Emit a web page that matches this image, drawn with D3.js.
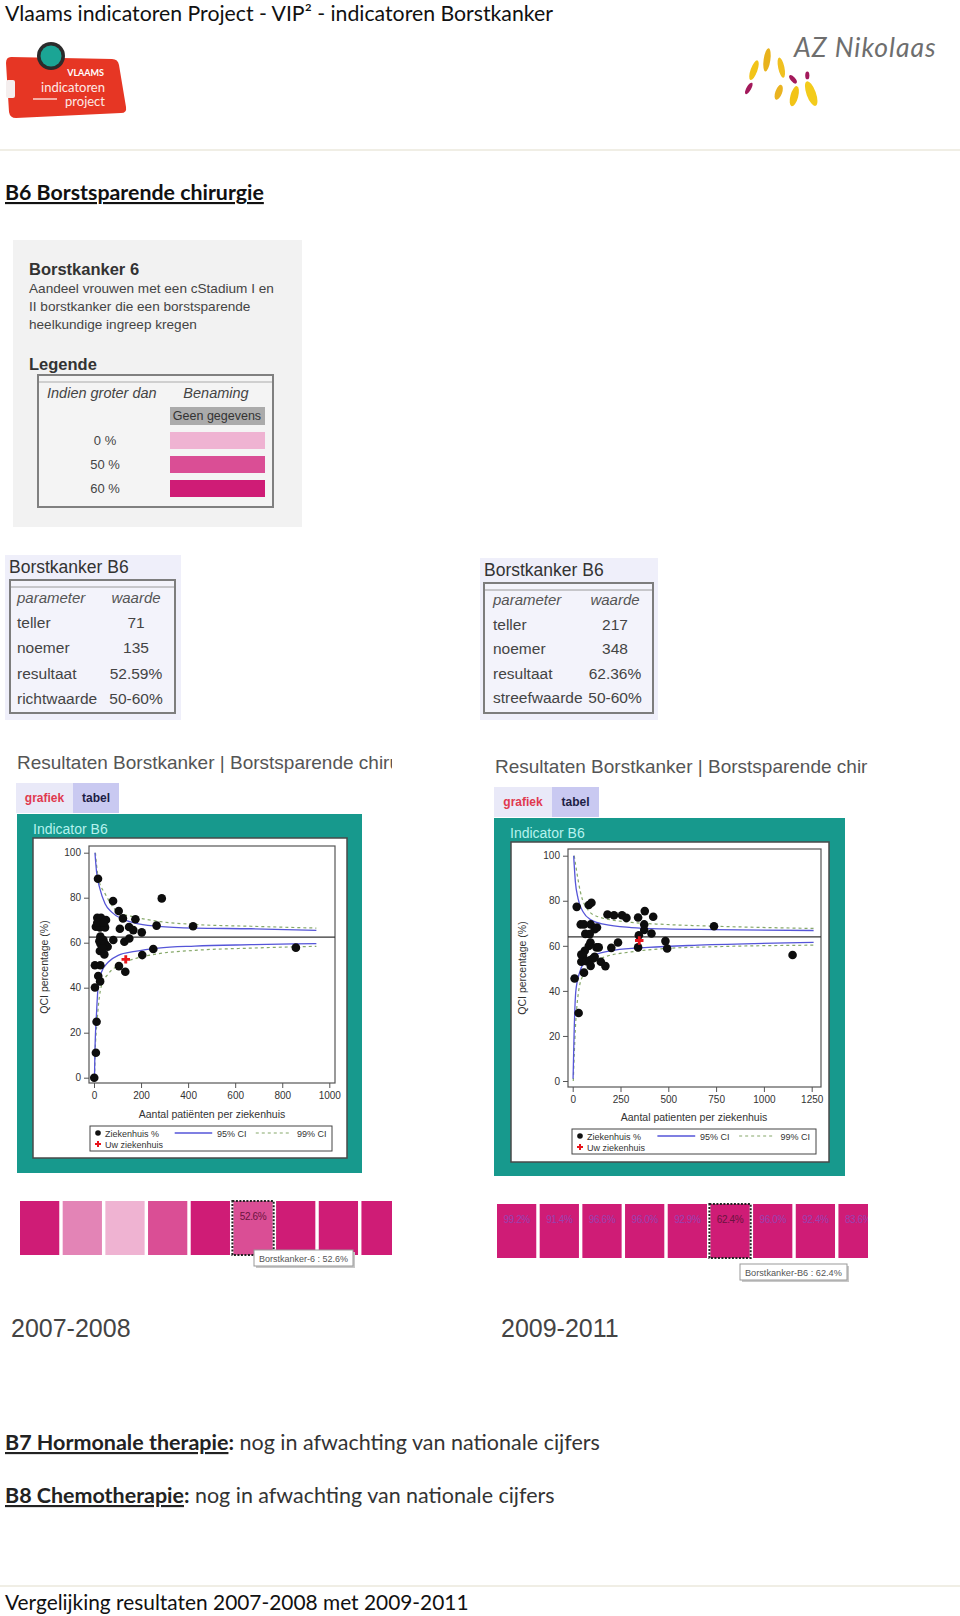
<!DOCTYPE html>
<html><head><meta charset="utf-8">
<script src="https://cdn.jsdelivr.net/npm/d3@7"></script>
<style>body{margin:0;background:#fff}svg{display:block}</style>
</head><body>
<svg id="c" width="960" height="1616"></svg>
<script>
// ---------------- DATA ----------------
const headerTitle = "Vlaams indicatoren Project - VIP² - indicatoren Borstkanker";
const sectionTitle = "B6 Borstsparende chirurgie";
const indicatorName = "Borstkanker 6";
const indicatorDesc = ["Aandeel vrouwen met een cStadium I en", "II borstkanker die een borstsparende", "heelkundige ingreep kregen"];
const legendThresholds = ["0 %", "50 %", "60 %"];
const legendClasses = ["c0", "c50", "c60"];
const tableLeftParams = ["teller", "noemer", "resultaat", "richtwaarde"];
const tableLeftValues = ["71", "135", "52.59%", "50-60%"];
const tableRightParams = ["teller", "noemer", "resultaat", "streefwaarde"];
const tableRightValues = ["217", "348", "62.36%", "50-60%"];
const yTicks = [0, 20, 40, 60, 80, 100];
const xTicksLeft = [0, 200, 400, 600, 800, 1000];
const xTicksRight = [0, 250, 500, 750, 1000, 1250];
const meanLeft = 62.5;
const meanRight = 64.0;
// hospitals: [patients, percentage]
const pointsLeft = [
  [17,88.4],[288,79.7],[81,78.5],[105,74.1],[123,70.8],[176,70.4],[266,67.6],[421,67.3],
  [110,66.2],[149,67],[167,65.6],[203,64.6],
  [14,71.1],[30,71.1],[51,70.1],[8,67.1],[25,66.8],[47,66.8],[14,68.9],[40,68.9],
  [27,62.7],[23,60.7],[40,61.2],[28,59.4],[47,59.4],[58,58.2],[25,56.3],[44,54.8],[37,57.5],
  [82,61.2],[129,60.4],[150,61.9],
  [205,54.5],[252,57.2],[106,49.6],[133,47.1],[4,50],[27,50],[18,45.2],[26,42.8],[4,40.1],
  [11,24.9],[8,11.1],[1,0],[858,57.8]
];
const ownLeft = [135, 52.59];
const pointsRight = [
  [21,77.3],[84,78.1],[98,79.1],[182,73.9],[216,73.6],[258,73.6],[281,72.4],[342,72.6],[377,75.4],[421,72.9],
  [42,69.5],[59,69.5],[94,69.5],[115,67.4],[127,68.1],[66,65.3],[89,65.2],
  [374,69.5],[374,67],[346,64.7],[412,65.5],[739,68.7],
  [485,62.1],[494,58.8],[342,59.3],[237,61.5],[202,59.1],
  [93,61.5],[84,59.9],[124,59.3],[136,59.3],[63,57.8],[45,56.1],[54,55.9],
  [45,52.9],[72,53.2],[89,53.6],[106,54.4],[115,55.1],[94,51.1],[147,52.9],[171,51],[59,48.1],
  [10,45.5],[31,30.2],[1150,55.9]
];
const ownRight = [348, 62.36];
// control limits: [patients, percentage]
const upper95Left = [[4,100],[11,91.4],[25,84],[47,77.3],[75,73.6],[117,70.7],[174,68.7],[273,67.3],[428,66.5],[668,66.2],[945,65.5]];
const upper99Left = [[6,100],[11,94.4],[20,88],[47,81.8],[103,73.6],[174,71.4],[273,69.5],[428,68.1],[668,67.3],[945,66.5]];
const lower95Left = [[2,0],[4,11.4],[11,29.2],[18,41],[32,47],[61,51.4],[103,54.4],[174,56.1],[273,57.6],[428,58.5],[668,59.1],[945,59.6]];
const lower99Left = [[3,0],[4,8.4],[14,26.2],[32,41],[61,46.2],[103,49.9],[174,52.9],[273,55.1],[428,56.6],[668,57.6],[945,58.4]];
const upper95Right = [[5,100],[14,88.4],[28,81],[54,75.1],[98,71.4],[168,69.5],[307,68.1],[482,67.5],[744,67.2],[1260,66.8]];
const upper99Right = [[8,100],[19,94],[40,84],[80,75.9],[133,72.9],[307,70.4],[482,69.5],[744,68.7],[1260,67.7]];
const lower95Right = [[2,1],[7,20],[16,39.6],[37,48.4],[63,52.9],[115,55.9],[220,58.1],[395,59.3],[656,60.3],[1260,61.5]];
const lower99Right = [[3,0],[14,23.3],[28,38],[54,47],[98,51.4],[168,55.1],[307,57.3],[482,58.8],[744,59.6],[1260,60.3]];
// colour strips
const stripLeftClasses = ["c60","c50f","c0","c50","c60","c50","c60","c60","c60"];
const stripLeftLabels = ["","","","","","52.6%","","",""];
const stripRightClasses = ["c60","c60","c60","c60","c60","c60","c60","c60","c60"];
const stripRightLabels = ["99.2%","91.4%","96.6%","96.0%","92.9%","62.4%","96.0%","92.4%","83.6%"];
const tooltipLeft = "Borstkanker-6 : 52.6%";
const tooltipRight = "Borstkanker-B6 : 62.4%";
const periods = ["2007-2008", "2009-2011"];

// ---------------- DRAW ----------------
const svg = d3.select("#c");
const SANS = "'Liberation Sans', Arial, sans-serif";
const CAL = "Lato, 'Open Sans', sans-serif";
const classColor = d3.scaleOrdinal().domain(["c0","c50","c60","c50f"]).range(["#efb3d2","#da4e95","#cf1c76","#e384b6"]);

function fitW(sel, w) {
  const cur = sel.node().getComputedTextLength();
  const fs = parseFloat(sel.attr("font-size"));
  if (cur > 0) sel.attr("font-size", fs * w / cur);
  return sel;
}

svg.append("rect").attr("width", 960).attr("height", 1616).attr("fill", "#fff");

// header
fitW(svg.append("text").attr("x", 5).attr("y", 21).attr("font-family", CAL).attr("font-size", 20)
  .attr("fill", "#111").text(headerTitle), 548);

// VIP logo
const logo = svg.append("g");
logo.append("path").attr("d", "M11,57 L112,59 Q118,59 119,65 L126,107 Q127,113 121,113 L16,118 Q10,118 9,112 L6,63 Q6,57 11,57 Z")
  .attr("fill", "#e63624");
logo.append("rect").attr("x", 6).attr("y", 80).attr("width", 9).attr("height", 18).attr("fill", "#f4eeee").attr("rx", 2);
logo.append("circle").attr("cx", 51).attr("cy", 56).attr("r", 14).attr("fill", "#2b2b2b");
logo.append("circle").attr("cx", 51).attr("cy", 56).attr("r", 10.5).attr("fill", "#1ba595");
logo.append("text").attr("x", 104).attr("y", 76).attr("text-anchor", "end").attr("font-family", CAL)
  .attr("font-weight", "bold").attr("font-size", 9).attr("fill", "#fff").text("VLAAMS");
logo.append("text").attr("x", 105).attr("y", 92).attr("text-anchor", "end").attr("font-family", CAL)
  .attr("font-size", 13).attr("fill", "#fde9e6").text("indicatoren");
logo.append("line").attr("x1", 33).attr("x2", 57).attr("y1", 99).attr("y2", 99).attr("stroke", "#fbd5cf").attr("stroke-width", 1.5);
logo.append("text").attr("x", 105).attr("y", 106).attr("text-anchor", "end").attr("font-family", CAL)
  .attr("font-size", 13).attr("fill", "#fde9e6").text("project");

// AZ Nikolaas logo
const az = svg.append("g");
fitW(az.append("text").attr("x", 794).attr("y", 57).attr("font-family", CAL).attr("font-style", "italic")
  .attr("font-size", 22).attr("fill", "#6e6e6e").attr("letter-spacing", 1).text("AZ Nikolaas"), 145);
const petals = [
  [752,72,2.6,8,20,"#f2c418"],[762,64,2.6,9,8,"#e8b21c"],[773,70,2.4,8,-12,"#f0c020"],
  [748,86,1.8,5,30,"#a3195b"],[782,79,1.8,4,-40,"#a3195b"],[771,89,2.6,6,20,"#eab320"],
  [783,92,3,8,15,"#f2c418"],[796,90,3.6,10,-20,"#f3cb1b"],[793,76,1.6,3,0,"#a3195b"]
];
az.append("g").attr("transform", "translate(780,78) scale(1.3) translate(-772,-78)")
  .selectAll("ellipse").data(petals).join("ellipse")
  .attr("cx", d => d[0]).attr("cy", d => d[1]).attr("rx", d => d[2]).attr("ry", d => d[3])
  .attr("transform", d => `rotate(${d[4]},${d[0]},${d[1]})`).attr("fill", d => d[5]);

svg.append("line").attr("x1", 0).attr("x2", 960).attr("y1", 150).attr("y2", 150).attr("stroke", "#ebe8dc").attr("stroke-width", 1.5);

// section title
fitW(svg.append("text").attr("x", 5).attr("y", 200).attr("font-family", CAL).attr("font-weight", "bold")
  .attr("font-size", 20).attr("fill", "#111").attr("text-decoration", "underline").text(sectionTitle), 259);

// grey legend box
const lg = svg.append("g");
lg.append("rect").attr("x", 13).attr("y", 240).attr("width", 289).attr("height", 287).attr("fill", "#f2f2f2");
lg.append("text").attr("x", 29).attr("y", 275).attr("font-family", SANS).attr("font-weight", "bold")
  .attr("font-size", 16.5).attr("fill", "#333").text(indicatorName);
lg.selectAll("text.desc").data(indicatorDesc).join("text").attr("class", "desc")
  .attr("x", 29).attr("y", (d, i) => 293 + i * 18).attr("font-family", SANS).attr("font-size", 13.6)
  .attr("fill", "#444").text(d => d);
lg.append("text").attr("x", 29).attr("y", 370).attr("font-family", SANS).attr("font-weight", "bold")
  .attr("font-size", 16.5).attr("fill", "#333").text("Legende");
lg.append("rect").attr("x", 38).attr("y", 375).attr("width", 235).attr("height", 132).attr("fill", "#f4f4f4")
  .attr("stroke", "#808080").attr("stroke-width", 2);
lg.append("line").attr("x1", 39).attr("x2", 272).attr("y1", 382).attr("y2", 382).attr("stroke", "#aaa");
lg.append("text").attr("x", 47).attr("y", 398).attr("font-family", SANS).attr("font-style", "italic")
  .attr("font-size", 14.5).attr("fill", "#444").text("Indien groter dan");
lg.append("text").attr("x", 216).attr("y", 398).attr("text-anchor", "middle").attr("font-family", SANS)
  .attr("font-style", "italic").attr("font-size", 14.5).attr("fill", "#444").text("Benaming");
lg.append("rect").attr("x", 170).attr("y", 407).attr("width", 95).attr("height", 18).attr("fill", "#ababab");
lg.append("text").attr("x", 217).attr("y", 420).attr("text-anchor", "middle").attr("font-family", SANS)
  .attr("font-size", 12.5).attr("fill", "#333").text("Geen gegevens");
lg.selectAll("rect.cls").data(legendClasses).join("rect").attr("class", "cls")
  .attr("x", 170).attr("y", (d, i) => 432 + i * 24).attr("width", 95).attr("height", 17).attr("fill", d => classColor(d));
lg.selectAll("text.thr").data(legendThresholds).join("text").attr("class", "thr")
  .attr("x", 105).attr("y", (d, i) => 445 + i * 24).attr("text-anchor", "middle").attr("font-family", SANS)
  .attr("font-size", 13).attr("fill", "#444").text(d => d);

// parameter tables
function paramTable(cfg, params, values) {
  const g = svg.append("g");
  g.append("rect").attr("x", cfg.x).attr("y", cfg.y).attr("width", cfg.w).attr("height", cfg.h).attr("fill", "#efeffa");
  g.append("text").attr("x", cfg.x + 4).attr("y", cfg.y + 18).attr("font-family", SANS).attr("font-size", 17.5)
    .attr("fill", "#333").text("Borstkanker B6");
  g.append("rect").attr("x", cfg.ix).attr("y", cfg.iy).attr("width", cfg.iw).attr("height", cfg.ih)
    .attr("fill", "#f3f3fb").attr("stroke", "#7d7d7d").attr("stroke-width", 2);
  g.append("line").attr("x1", cfg.ix + 1).attr("x2", cfg.ix + cfg.iw - 1).attr("y1", cfg.iy + 7).attr("y2", cfg.iy + 7).attr("stroke", "#9a9a9a");
  g.append("text").attr("x", cfg.px).attr("y", cfg.y0).attr("font-family", SANS).attr("font-style", "italic")
    .attr("font-size", 15).attr("fill", "#555").text("parameter");
  g.append("text").attr("x", cfg.vx).attr("y", cfg.y0).attr("text-anchor", "middle").attr("font-family", SANS)
    .attr("font-style", "italic").attr("font-size", 15).attr("fill", "#555").text("waarde");
  g.selectAll("text.p").data(params).join("text").attr("class", "p").attr("x", cfg.px)
    .attr("y", (d, i) => cfg.y0 + (i + 1) * cfg.dy).attr("font-family", SANS).attr("font-size", 15.5)
    .attr("fill", "#444").text(d => d);
  g.selectAll("text.v").data(values).join("text").attr("class", "v").attr("x", cfg.vx)
    .attr("y", (d, i) => cfg.y0 + (i + 1) * cfg.dy).attr("text-anchor", "middle").attr("font-family", SANS)
    .attr("font-size", 15.5).attr("fill", "#444").text(d => d);
}
paramTable({x: 5, y: 555, w: 176, h: 165, ix: 10, iy: 580, iw: 165, ih: 133, px: 17, vx: 136, y0: 603, dy: 25.2},
  tableLeftParams, tableLeftValues);
paramTable({x: 480, y: 558, w: 178, h: 162, ix: 484, iy: 583, iw: 169, ih: 130, px: 493, vx: 615, y0: 605, dy: 24.6},
  tableRightParams, tableRightValues);

// funnel charts
function funnel(cfg) {
  const g = svg.append("g");
  const cid = "clip" + cfg.id;
  svg.append("clipPath").attr("id", cid + "t").append("rect").attr("x", 0).attr("y", cfg.title.y - 30)
    .attr("width", cfg.title.clip).attr("height", 40);
  g.append("text").attr("clip-path", `url(#${cid}t)`).attr("x", cfg.title.x).attr("y", cfg.title.y)
    .attr("font-family", SANS).attr("font-size", 19).attr("fill", "#555")
    .text("Resultaten Borstkanker | Borstsparende chirurgie");
  // tabs
  const t = cfg.tabs;
  g.append("rect").attr("x", t.x).attr("y", t.y).attr("width", t.w1).attr("height", t.h).attr("fill", "#e9e9f8");
  g.append("rect").attr("x", t.x + t.w1).attr("y", t.y).attr("width", t.w2).attr("height", t.h).attr("fill", "#c9c9f1");
  g.append("text").attr("x", t.x + t.w1 / 2).attr("y", t.y + 19).attr("text-anchor", "middle").attr("font-family", SANS)
    .attr("font-weight", "bold").attr("font-size", 12).attr("fill", "#e0394f").text("grafiek");
  g.append("text").attr("x", t.x + t.w1 + t.w2 / 2).attr("y", t.y + 19).attr("text-anchor", "middle").attr("font-family", SANS)
    .attr("font-weight", "bold").attr("font-size", 12).attr("fill", "#1d1d45").text("tabel");
  // teal panel
  const p = cfg.teal;
  g.append("rect").attr("x", p.x).attr("y", p.y).attr("width", p.w).attr("height", p.h).attr("fill", "#17998d");
  g.append("text").attr("x", cfg.ind.x).attr("y", cfg.ind.y).attr("font-family", SANS).attr("font-size", 14)
    .attr("fill", "#b6f2ee").text("Indicator B6");
  const inr = cfg.inner;
  g.append("rect").attr("x", inr.x).attr("y", inr.y).attr("width", inr.w).attr("height", inr.h)
    .attr("fill", "#fff").attr("stroke", "#4a4a4a").attr("stroke-width", 1.5);
  const f = cfg.frame;
  const x = d3.scaleLinear().domain([0, cfg.xTicks[cfg.xTicks.length - 1]]).range(cfg.xr);
  const y = d3.scaleLinear().domain([0, 100]).range(cfg.yr);
  g.append("rect").attr("x", f.x0).attr("y", f.y0).attr("width", f.x1 - f.x0).attr("height", f.y1 - f.y0)
    .attr("fill", "#fff").attr("stroke", "#555").attr("stroke-width", 1.2);
  const ay = g.append("g").attr("transform", `translate(${f.x0},0)`)
    .call(d3.axisLeft(y).tickValues(yTicks).tickFormat(d3.format("d")).tickSize(5).tickPadding(3));
  ay.select(".domain").remove();
  ay.selectAll("line").attr("stroke", "#555");
  ay.selectAll("text").attr("font-family", SANS).attr("font-size", 10).attr("fill", "#333");
  const ax = g.append("g").attr("transform", `translate(0,${f.y1})`)
    .call(d3.axisBottom(x).tickValues(cfg.xTicks).tickFormat(d3.format("d")).tickSize(5).tickPadding(4));
  ax.select(".domain").remove();
  ax.selectAll("line").attr("stroke", "#555");
  ax.selectAll("text").attr("font-family", SANS).attr("font-size", 10).attr("fill", "#333");
  g.append("text").attr("x", cfg.xTitle.x).attr("y", cfg.xTitle.y).attr("text-anchor", "middle").attr("font-family", SANS)
    .attr("font-size", 10.5).attr("fill", "#333").text(cfg.xTitleText);
  g.append("text").attr("transform", `translate(${cfg.yTitle.x},${cfg.yTitle.y}) rotate(-90)`).attr("text-anchor", "middle")
    .attr("font-family", SANS).attr("font-size", 10.5).attr("fill", "#333").text("QCI percentage (%)");
  // clip for plot
  svg.append("clipPath").attr("id", cid).append("rect").attr("x", f.x0).attr("y", f.y0)
    .attr("width", f.x1 - f.x0).attr("height", f.y1 - f.y0);
  const pg = g.append("g").attr("clip-path", `url(#${cid})`);
  pg.append("line").attr("x1", f.x0).attr("x2", f.x1).attr("y1", y(cfg.mean)).attr("y2", y(cfg.mean))
    .attr("stroke", "#333").attr("stroke-width", 1.2);
  const line = d3.line().x(d => x(d[0])).y(d => y(d[1])).curve(d3.curveMonotoneX);
  [cfg.u99, cfg.l99].forEach(c => pg.append("path").attr("d", line(c)).attr("fill", "none")
    .attr("stroke", "#86a86a").attr("stroke-width", 1.2).attr("stroke-dasharray", "3,3"));
  [cfg.u95, cfg.l95].forEach(c => pg.append("path").attr("d", line(c)).attr("fill", "none")
    .attr("stroke", "#5555d8").attr("stroke-width", 1.3));
  pg.selectAll("circle.pt").data(cfg.points).join("circle").attr("class", "pt")
    .attr("cx", d => x(d[0])).attr("cy", d => y(d[1])).attr("r", 4.3).attr("fill", "#0d0d0d");
  pg.append("path").attr("d", d3.symbol(d3.symbolCross, 40)())
    .attr("transform", `translate(${x(cfg.own[0])},${y(cfg.own[1])})`).attr("fill", "#e8141c");
  // legend
  const L = cfg.legend;
  const lgG = g.append("g").attr("transform", `translate(${L.x},${L.y})`);
  lgG.append("rect").attr("width", L.w).attr("height", L.h).attr("fill", "#fff").attr("stroke", "#444");
  lgG.append("circle").attr("cx", 8).attr("cy", 7).attr("r", 2.8).attr("fill", "#111");
  lgG.append("path").attr("d", d3.symbol(d3.symbolCross, 20)()).attr("transform", "translate(8,18)").attr("fill", "#e8141c");
  const lt = (xx, yy, s) => lgG.append("text").attr("x", xx).attr("y", yy).attr("font-family", SANS)
    .attr("font-size", 9).attr("fill", "#333").text(s);
  lt(15, 10.5, "Ziekenhuis %");
  lt(15, 21.5, "Uw ziekenhuis");
  lgG.append("line").attr("x1", L.w * 0.35).attr("x2", L.w * 0.505).attr("y1", 7).attr("y2", 7).attr("stroke", "#5555d8").attr("stroke-width", 1.3);
  lt(L.w * 0.525, 10.5, "95% CI");
  lgG.append("line").attr("x1", L.w * 0.685).attr("x2", L.w * 0.825).attr("y1", 7).attr("y2", 7).attr("stroke", "#86a86a")
    .attr("stroke-width", 1.2).attr("stroke-dasharray", "3,3");
  lt(L.w * 0.855, 10.5, "99% CI");
}

funnel({id: "L", title: {x: 17, y: 769, clip: 392}, tabs: {x: 16, y: 783, w1: 57, w2: 46, h: 30},
  teal: {x: 17, y: 814, w: 345, h: 359}, ind: {x: 33, y: 834}, inner: {x: 33, y: 838, w: 314, h: 320},
  frame: {x0: 89, y0: 846, x1: 335, y1: 1083}, xr: [94, 329.3], yr: [1077.7, 852.7],
  xTicks: xTicksLeft, xTitle: {x: 212, y: 1118}, xTitleText: "Aantal patiënten per ziekenhuis",
  yTitle: {x: 48, y: 967}, legend: {x: 90, y: 1126, w: 242, h: 25}, mean: meanLeft,
  points: pointsLeft, own: ownLeft, u95: upper95Left, l95: lower95Left, u99: upper99Left, l99: lower99Left});

funnel({id: "R", title: {x: 495, y: 773, clip: 868}, tabs: {x: 494, y: 787, w1: 58, w2: 47, h: 30},
  teal: {x: 494, y: 818, w: 351, h: 358}, ind: {x: 510, y: 838}, inner: {x: 511, y: 842, w: 318, h: 320},
  frame: {x0: 568, y0: 849, x1: 821, y1: 1087}, xr: [572.7, 811.7], yr: [1081, 855.7],
  xTicks: xTicksRight, xTitle: {x: 694, y: 1121}, xTitleText: "Aantal patienten per ziekenhuis",
  yTitle: {x: 526, y: 968}, legend: {x: 572, y: 1129, w: 244, h: 25}, mean: meanRight,
  points: pointsRight, own: ownRight, u95: upper95Right, l95: lower95Right, u99: upper99Right, l99: lower99Right});

// colour strips
function strip(cfg, classes, labels, tip) {
  const g = svg.append("g");
  svg.append("clipPath").attr("id", "s" + cfg.id).append("rect").attr("x", cfg.x - 2).attr("y", cfg.y - 5)
    .attr("width", cfg.clip - cfg.x + 2).attr("height", cfg.h + 10);
  const sg = g.append("g").attr("clip-path", `url(#s${cfg.id})`);
  const xs = d3.scaleBand().domain(d3.range(classes.length)).range([cfg.x, cfg.x + cfg.pitch * classes.length]).paddingInner(0.08).paddingOuter(0);
  sg.selectAll("rect").data(classes).join("rect").attr("x", (d, i) => xs(i)).attr("y", cfg.y)
    .attr("width", xs.bandwidth()).attr("height", cfg.h).attr("fill", d => classColor(d));
  sg.selectAll("text").data(labels).join("text").attr("x", (d, i) => xs(i) + xs.bandwidth() / 2)
    .attr("y", cfg.y + 19).attr("text-anchor", "middle").attr("font-family", SANS).attr("font-size", 10)
    .attr("fill", (d, i) => i === cfg.sel ? "#6a1440" : "#8a4cc0").attr("fill-opacity", (d, i) => i === cfg.sel ? 1 : 0.8)
    .attr("letter-spacing", -0.4).text(d => d);
  sg.append("rect").attr("x", xs(cfg.sel) - 1).attr("y", cfg.y).attr("width", xs.bandwidth() + 2).attr("height", cfg.h)
    .attr("fill", "none").attr("stroke", "#222").attr("stroke-width", 2).attr("stroke-dasharray", "2,1.5");
  // tooltip
  const tg = g.append("g").attr("transform", `translate(${cfg.tip.x},${cfg.tip.y})`);
  tg.append("rect").attr("x", 2).attr("y", 2).attr("width", cfg.tip.w).attr("height", 16).attr("fill", "#c8c8c8");
  tg.append("rect").attr("width", cfg.tip.w).attr("height", 16).attr("fill", "#fff").attr("stroke", "#999");
  fitW(tg.append("text").attr("x", 5).attr("y", 11.5).attr("font-family", SANS).attr("font-size", 9)
    .attr("fill", "#555").text(tip), cfg.tip.w - 10);
}
strip({id: "L", x: 20, y: 1201, h: 54, pitch: 42.3, clip: 392, sel: 5, tip: {x: 254, y: 1250, w: 99}},
  stripLeftClasses, stripLeftLabels, tooltipLeft);
strip({id: "R", x: 497, y: 1204, h: 54, pitch: 42.3, clip: 868, sel: 5, tip: {x: 740, y: 1264, w: 107}},
  stripRightClasses, stripRightLabels, tooltipRight);

// periods
svg.selectAll("text.period").data(periods).join("text").attr("class", "period")
  .attr("x", (d, i) => i === 0 ? 11 : 501).attr("y", 1337).attr("font-family", SANS).attr("font-size", 25)
  .attr("fill", "#444").text(d => d);

// B7 / B8 lines
function noteLine(yy, bold, rest, w) {
  const t = svg.append("text").attr("x", 5).attr("y", yy).attr("font-family", CAL).attr("font-size", 20).attr("fill", "#222");
  t.append("tspan").attr("font-weight", "bold").attr("text-decoration", "underline").text(bold);
  t.append("tspan").attr("font-weight", "bold").text(":");
  t.append("tspan").attr("fill", "#333").text(" " + rest);
  fitW(t, w);
}
noteLine(1450, "B7 Hormonale therapie", "nog in afwachting van nationale cijfers", 595);
noteLine(1503, "B8 Chemotherapie", "nog in afwachting van nationale cijfers", 550);

svg.append("line").attr("x1", 0).attr("x2", 960).attr("y1", 1586).attr("y2", 1586).attr("stroke", "#ebe8dc").attr("stroke-width", 1.5);
fitW(svg.append("text").attr("x", 5).attr("y", 1610).attr("font-family", CAL).attr("font-size", 20)
  .attr("fill", "#111").text("Vergelijking resultaten 2007-2008 met 2009-2011"), 464);
</script>
</body></html>
